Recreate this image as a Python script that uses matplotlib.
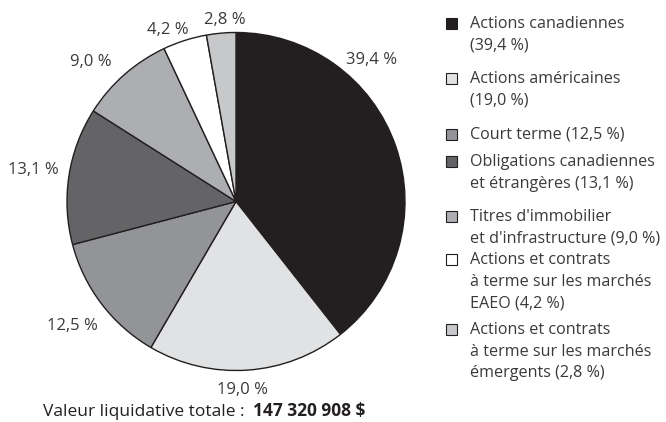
import matplotlib.pyplot as plt
from matplotlib.patches import Rectangle

plt.rcParams['font.family'] = ['Open Sans', 'DejaVu Sans']

# données du graphique
categories = ['Actions canadiennes', 'Actions américaines', 'Court terme',
              'Obligations canadiennes et étrangères',
              "Titres d'immobilier et d'infrastructure",
              'Actions et contrats à terme sur les marchés EAEO',
              'Actions et contrats à terme sur les marchés émergents']
values = [39.4, 19.0, 12.5, 13.1, 9.0, 4.2, 2.8]
pct_labels = ['39,4 %', '19,0 %', '12,5 %', '13,1 %', '9,0 %', '4,2 %', '2,8 %']
legend_lines = [
    ['Actions canadiennes', '(39,4 %)'],
    ['Actions américaines', '(19,0 %)'],
    ['Court terme (12,5 %)'],
    ['Obligations canadiennes', 'et étrangères (13,1 %)'],
    ["Titres d'immobilier", "et d'infrastructure (9,0 %)"],
    ['Actions et contrats', 'à terme sur les marchés', 'EAEO (4,2 %)'],
    ['Actions et contrats', 'à terme sur les marchés', 'émergents (2,8 %)'],
]
total_normal = 'Valeur liquidative totale : '
total_bold = '147 320 908 $'

colors = ['#231f20', '#e1e2e4', '#939497', '#646466', '#adaeb1', '#ffffff', '#c7c8ca']

# positions des étiquettes (en rayons, centre du camembert = 0,0)
label_xy = [(0.805, 0.837), (0.041, -1.115), (-0.97, -0.737), (-1.201, 0.186),
            (-0.858, 0.825), (-0.402, 1.015), (-0.065, 1.074)]

W, H = 666, 422
fig = plt.figure(figsize=(W / 100, H / 100), dpi=100)

ax = fig.add_axes([0, 0, 420 / W, 1])
ax.pie(values, colors=colors, startangle=90, counterclock=False,
       wedgeprops=dict(edgecolor='#231f20', linewidth=1.0))
for lab, (x, y) in zip(pct_labels, label_xy):
    ax.text(x, y, lab, ha='center', va='center', fontsize=12, color='#3a3a3a')
ax.set_xlim(-236 / 169, 184 / 169)
ax.set_ylim(-220.5 / 169, 201.5 / 169)
ax.set_aspect('auto')
ax.axis('off')

# légende
line_h = 21.6
entry_tops = [22, 77, 133, 160, 215, 258, 328]
for lines, col, top in zip(legend_lines, colors, entry_tops):
    fig.add_artist(Rectangle((446 / W, 1 - (top + 7) / H), 11 / W, 11 / H,
                             transform=fig.transFigure, facecolor=col,
                             edgecolor='#231f20', linewidth=0.8))
    for i, ln in enumerate(lines):
        fig.text(470 / W, 1 - (top + 2 + i * line_h) / H, ln, ha='left',
                 va='center', fontsize=11.6, color='#3a3a3a')

fig.text(249 / W, 1 - 416 / H, total_normal, ha='right', va='baseline',
         fontsize=12.5, color='#231f20')
fig.text(253 / W, 1 - 416 / H, total_bold, ha='left', va='baseline',
         fontsize=12.5, fontweight='bold', color='#231f20')

fig.savefig('out.png', dpi=100)
